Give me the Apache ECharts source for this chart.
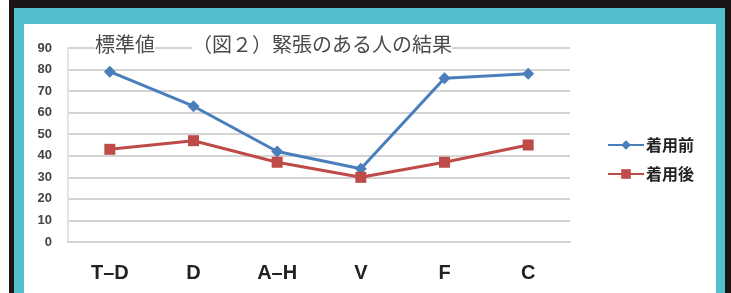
<!DOCTYPE html>
<html>
<head>
<meta charset="utf-8">
<script src="https://cdn.jsdelivr.net/npm/echarts@6/dist/echarts.min.js"></script>
<style>
html,body{margin:0;padding:0;background:#fff;}
#c{width:731px;height:293px;}
</style>
</head>
<body>
<div id="c"></div>
<script>
const categories = ['T\u2013D', 'D', 'A\u2013H', 'V', 'F', 'C'];
const seriesNames = ['着用前', '着用後'];
const beforeValues = [79, 63, 42, 34, 76, 78];
const afterValues = [43, 47, 37, 30, 37, 45];
const yTicks = [0, 10, 20, 30, 40, 50, 60, 70, 80, 90];

const chart = echarts.init(document.getElementById('c'), null, {renderer: 'canvas'});
chart.setOption({
  animation: false,
  backgroundColor: '#ffffff',
  graphic: [
    {type: 'rect', z: -10, shape: {x: 9, y: 0, width: 722, height: 300}, style: {fill: '#1b1515'}, silent: true},
    {type: 'rect', z: -9, shape: {x: 14, y: 8, width: 711, height: 292}, style: {fill: '#52bfcd'}, silent: true},
    {type: 'rect', z: -8, shape: {x: 24, y: 24, width: 692, height: 276}, style: {fill: '#ffffff'}, silent: true},
    {type: 'text', z: 10, left: 95, top: 34, style: {text: '標準値', fontSize: 20, fontFamily: 'Noto Sans CJK JP', fill: '#4a4a4a', backgroundColor: '#fff'}},
    {type: 'text', z: 10, left: 192, top: 34, style: {text: '（図２）緊張のある人の結果', fontSize: 20, fontFamily: 'Noto Sans CJK JP', fill: '#4a4a4a', backgroundColor: '#fff'}}
  ],
  legend: {
    orient: 'vertical',
    left: 602,
    top: 132,
    itemWidth: 36,
    itemHeight: 12,
    itemGap: 13,
    data: seriesNames,
    textStyle: {fontSize: 16, fontWeight: 'bold', color: '#222', fontFamily: 'Noto Sans CJK JP', padding: [0, 0, 0, -3]}
  },
  grid: {left: 68, right: 161, top: 48, bottom: 51, containLabel: false},
  xAxis: {
    type: 'category',
    data: categories,
    boundaryGap: true,
    axisLine: {show: true, lineStyle: {color: '#d4d4d4', width: 2}},
    axisTick: {show: false},
    axisLabel: {margin: 21, fontSize: 20, fontWeight: 'bold', color: '#222', fontFamily: 'Liberation Sans'}
  },
  yAxis: {
    type: 'value',
    min: yTicks[0],
    max: yTicks[yTicks.length - 1],
    interval: 10,
    axisLine: {show: true, lineStyle: {color: '#dcdcdc', width: 1.5}},
    axisTick: {show: false},
    splitLine: {lineStyle: {color: '#d4d4d4', width: 2}},
    axisLabel: {margin: 16, fontSize: 13, fontWeight: 'bold', color: '#444', fontFamily: 'Liberation Sans'}
  },
  series: [
    {
      name: seriesNames[0], type: 'line', data: beforeValues,
      symbol: 'diamond', symbolSize: 12,
      lineStyle: {color: '#4a7ebb', width: 3},
      itemStyle: {color: '#4a7ebb'}
    },
    {
      name: seriesNames[1], type: 'line', data: afterValues,
      symbol: 'rect', symbolSize: 11,
      lineStyle: {color: '#be4b48', width: 3},
      itemStyle: {color: '#be4b48'}
    }
  ]
});
</script>
</body>
</html>
